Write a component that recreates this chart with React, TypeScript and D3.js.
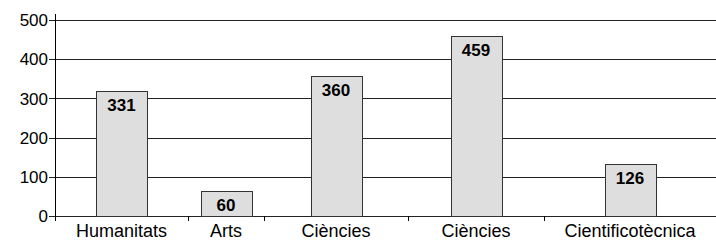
import { useRef, useEffect } from 'react'
import * as d3 from 'd3'

// data
const categories = ['Humanitats', 'Arts', 'Ciències', 'Ciències', 'Cientificotècnica']
const barValues = [318, 64, 357, 459, 132]
const valueLabels = ['331', '60', '360', '459', '126']
const yTicks = [0, 100, 200, 300, 400, 500]

// relative width of each category slot on the x axis
const slotSpans = [133, 76, 144, 136, 172]

const width = 716
const height = 242
const margin = { top: 20, right: 0, bottom: 26, left: 55 }
const barWidth = 51
const font = 'Liberation Sans, Arial, sans-serif'

function drawChart(targetSVG: SVGSVGElement) {
  const svg = d3.select(targetSVG)
  svg.selectAll('*').remove()

  const bounds = [0, ...d3.cumsum(slotSpans)]
  const x = d3
    .scaleLinear()
    .domain([0, d3.sum(slotSpans)])
    .range([margin.left, width - margin.right])

  const y = d3
    .scaleLinear()
    .domain([0, 500])
    .range([height - margin.bottom, margin.top])

  const center = (i: number) => (x(bounds[i]) + x(bounds[i + 1])) / 2

  // grid lines
  svg
    .append('g')
    .selectAll('line')
    .data(yTicks)
    .join('line')
    .attr('x1', margin.left - 6)
    .attr('x2', width)
    .attr('y1', (d) => Math.round(y(d)) + 0.5)
    .attr('y2', (d) => Math.round(y(d)) + 0.5)
    .attr('stroke', '#222')
    .attr('stroke-width', 1)

  // y tick labels
  svg
    .append('g')
    .selectAll('text')
    .data(yTicks)
    .join('text')
    .attr('x', margin.left - 7)
    .attr('y', (d) => y(d))
    .attr('dy', '0.36em')
    .attr('text-anchor', 'end')
    .attr('font-family', font)
    .attr('font-size', 17)
    .attr('fill', '#000')
    .text((d) => d)

  // y axis line
  svg
    .append('line')
    .attr('x1', margin.left + 0.5)
    .attr('x2', margin.left + 0.5)
    .attr('y1', margin.top - 6)
    .attr('y2', y(0) + 5)
    .attr('stroke', '#000')

  // x category ticks
  svg
    .append('g')
    .selectAll('line')
    .data(bounds.slice(1, -1))
    .join('line')
    .attr('x1', (d) => Math.round(x(d)) + 0.5)
    .attr('x2', (d) => Math.round(x(d)) + 0.5)
    .attr('y1', y(0))
    .attr('y2', y(0) + 5)
    .attr('stroke', '#000')

  // bars
  svg
    .append('g')
    .selectAll('rect')
    .data(barValues)
    .join('rect')
    .attr('x', (_, i) => Math.round(center(i) - barWidth / 2) + 0.5)
    .attr('y', (d) => Math.round(y(d)) + 0.5)
    .attr('width', barWidth)
    .attr('height', (d) => Math.round(y(0)) - Math.round(y(d)))
    .attr('fill', '#dedede')
    .attr('stroke', '#333')
    .attr('stroke-width', 1)

  // value labels
  svg
    .append('g')
    .selectAll('text')
    .data(valueLabels)
    .join('text')
    .attr('x', (_, i) => center(i))
    .attr('y', (_, i) => y(barValues[i]) + 20)
    .attr('text-anchor', 'middle')
    .attr('font-family', font)
    .attr('font-size', 17)
    .attr('font-weight', 'bold')
    .attr('fill', '#000')
    .text((d) => d)

  // category labels
  svg
    .append('g')
    .selectAll('text')
    .data(categories)
    .join('text')
    .attr('x', (_, i) => center(i))
    .attr('y', height - 5)
    .attr('text-anchor', 'middle')
    .attr('font-family', font)
    .attr('font-size', 18)
    .attr('fill', '#000')
    .text((d) => d)
}

export default function App() {
  const targetSVG = useRef<SVGSVGElement>(null)

  useEffect(() => {
    if (targetSVG.current) drawChart(targetSVG.current)
  }, [])

  return (
    <svg
      ref={targetSVG}
      width={width}
      height={height}
      style={{ position: 'absolute', left: 0, top: 0, background: '#fff' }}
    />
  )
}
